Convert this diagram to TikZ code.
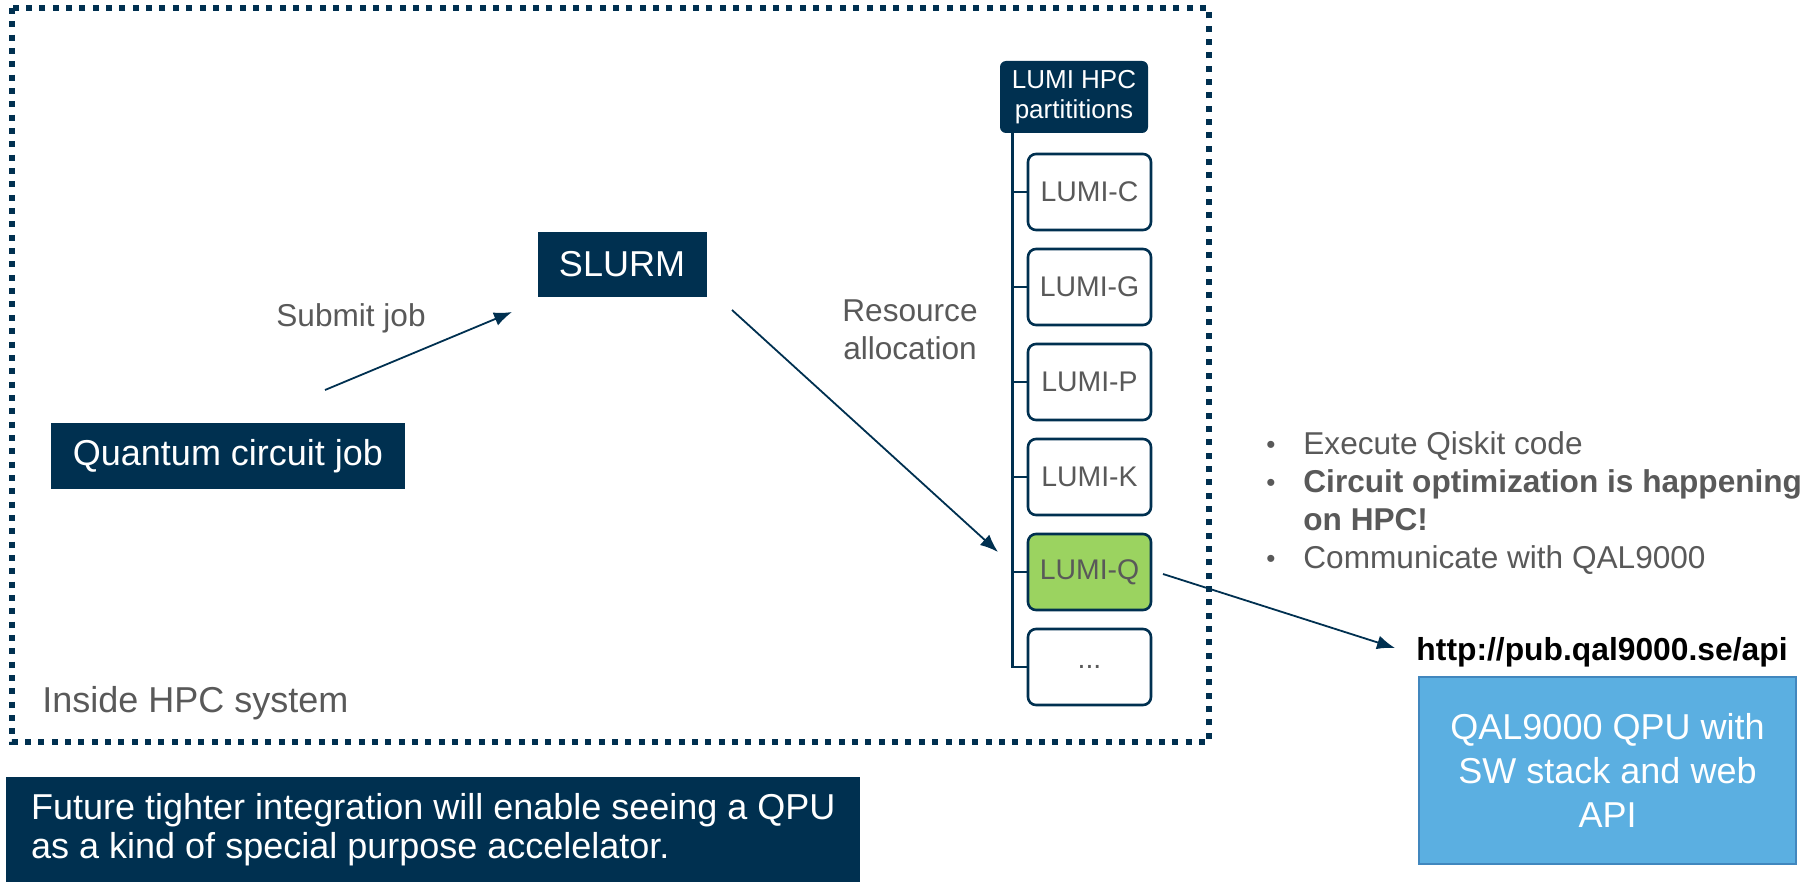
\documentclass[tikz,border=0pt]{standalone}
\usepackage{fontspec}
\setmainfont{Liberation Sans}
\usepackage{xcolor}
\usepackage{tikz}
\usetikzlibrary{positioning, arrows.meta}

\definecolor{navy}{RGB}{0,48,80}
\definecolor{txtgray}{RGB}{89,89,89}
\definecolor{qgreen}{RGB}{155,211,96}
\definecolor{qpublue}{RGB}{91,175,225}
\definecolor{qpuedge}{RGB}{65,135,190}
\newcommand{\blt}{\raisebox{0.6pt}{\fontsize{13}{13}\selectfont\textbullet}}

\begin{document}
\begin{tikzpicture}[x=0.5pt, y=-0.5pt,
        dark/.style={fill=navy, text=white, font=\fontsize{18}{22}\selectfont, inner sep=0pt},
        part/.style={draw=navy, line width=1.3pt, rounded corners=4pt, fill=white, text=txtgray,
            minimum width=61.5pt, minimum height=38pt, inner sep=0pt, outer sep=0pt,
            font=\fontsize{14.2}{17}\selectfont},
        lbl/.style={text=txtgray, font=\fontsize{15.8}{19}\selectfont, inner sep=0pt},
        arr/.style={draw=navy, line width=0.9pt, -{Latex[length=9pt,width=7pt]}},
        tree/.style={draw=navy, line width=1.4pt},
        node distance=9.5pt]
        \useasboundingbox (0,0) rectangle (1814,882);
        \draw[navy, line width=3pt, dash pattern=on 3pt off 3.67pt] (12,8) rectangle (1209,742);

        \node[dark, minimum width=177pt, minimum height=33pt] (job) at (228,456) {Quantum circuit job};
        \node[dark, minimum width=84.5pt, minimum height=32.5pt] (slurm) at (622,264.5) {SLURM};
        \node[dark, rounded corners=3pt, minimum width=74pt, minimum height=36pt, align=center,
            font=\fontsize{13}{15}\selectfont] (hdr) at (1074,97) {LUMI HPC\\partititions};

        \node[part]                           (c)    at (1089.5,192) {LUMI-C};
        \node[part, below=of c]               (g)    {LUMI-G};
        \node[part, below=of g]               (p)    {LUMI-P};
        \node[part, below=of p]               (k)    {LUMI-K};
        \node[part, below=of k, fill=qgreen]  (q)    {LUMI-Q};
        \node[part, below=of q]               (more) {...};

        \coordinate (trunk) at ([xshift=6.5pt]hdr.south west);
        \draw[tree] (trunk) |- (more.west);
        \foreach \n in {c,g,p,k,q}
            \draw[tree] (trunk |- \n.west) -- (\n.west);

        \node[lbl] (submit) at (351,318) {Submit job};
        \node[lbl, align=center] (res) at (910,330) {Resource\\allocation};
        \node[text=txtgray, font=\fontsize{18}{22}\selectfont, inner sep=0pt, anchor=west] (inside) at (42,703) {Inside HPC system};

        \node[lbl, anchor=west] (notes) at (1266,504) {\begin{tabular}{@{}p{18.5pt}@{}l@{}}
            \blt & Execute Qiskit code\\
            \blt & \textbf{Circuit optimization is happening}\\
                 & \textbf{on HPC!}\\
            \blt & Communicate with QAL9000
        \end{tabular}};

        \node[font=\fontsize{15.9}{19}\selectfont\bfseries, inner sep=0pt] (url) at (1602,652) {http://pub.qal9000.se/api};
        \node[draw=qpuedge, line width=1pt, fill=qpublue, text=white, minimum width=188.5pt, minimum height=93.5pt,
            align=center, font=\fontsize{18}{22}\selectfont] (qpu) at (1607.5,770.5) {QAL9000 QPU with\\SW stack and web\\API};

        \node[dark, anchor=north west, minimum width=427pt, minimum height=52.5pt, align=left,
            font=\fontsize{18}{19.5}\selectfont] (future) at (6,777)
            {Future tighter integration will enable seeing a QPU\\as a kind of special purpose accelelator.};

        \coordinate (j1) at (325,390);
        \coordinate (s1) at (512,312);
        \coordinate (s2) at (732,310);
        \coordinate (q1) at (998,552);
        \coordinate (q2) at (1163,574);
        \coordinate (u1) at (1395,648);
        \path
            (j1) edge[arr] (s1)
            (s2) edge[arr] (q1)
            (q2) edge[arr] (u1)
            ;
\end{tikzpicture}
\end{document}
